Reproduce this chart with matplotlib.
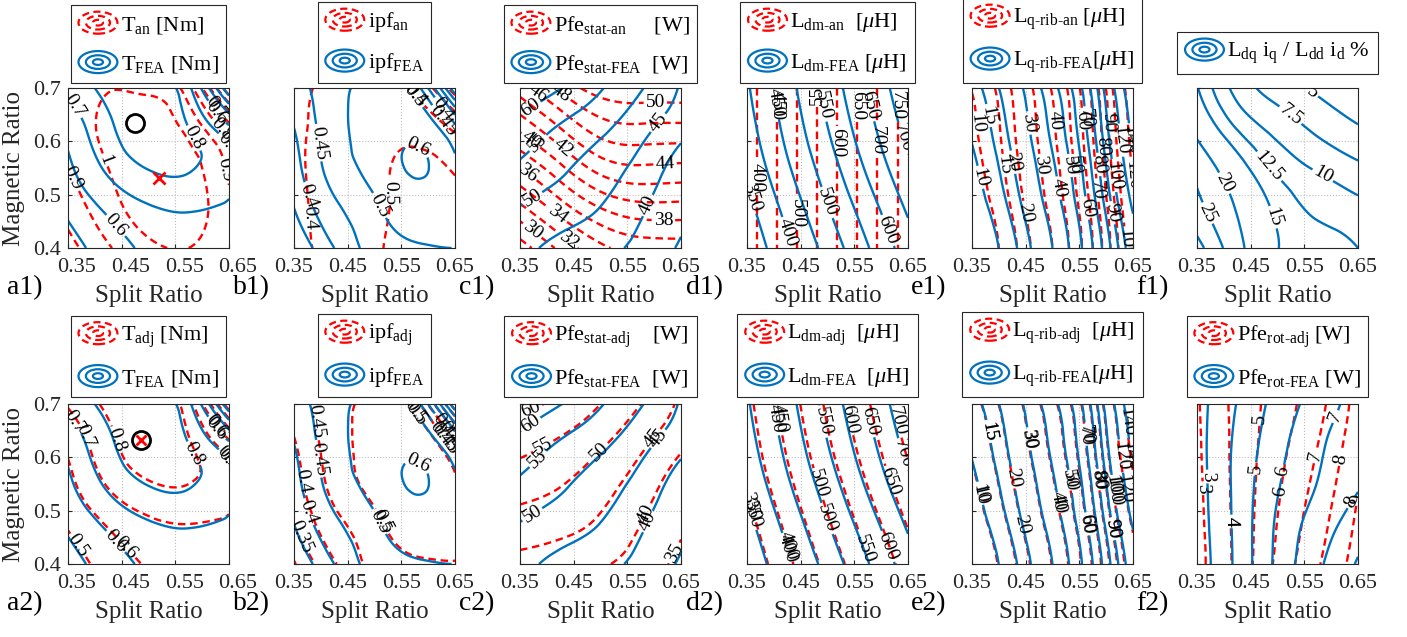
import numpy as np
import matplotlib
matplotlib.use("Agg")
import matplotlib.pyplot as plt
import matplotlib.tri as mtri
import matplotlib.transforms as mtrans
from matplotlib.legend_handler import HandlerBase
from matplotlib.lines import Line2D
from matplotlib.patches import Ellipse

plt.rcParams["font.family"] = ["Liberation Serif", "DejaVu Serif"]
plt.rcParams["mathtext.fontset"] = "custom"
plt.rcParams["mathtext.rm"] = "Liberation Serif"
plt.rcParams["mathtext.it"] = "Liberation Serif:italic"
plt.rcParams["mathtext.bf"] = "Liberation Serif:bold"
plt.rcParams["lines.dashed_pattern"] = [3.2, 2.0]

# ------------------------------------------------------------------
# DATA  (rows = magnetic ratio bottom->top, cols = split ratio left->right)
# ------------------------------------------------------------------
split_ratio = [0.35, 0.425, 0.50, 0.575, 0.65]
magnet_ratio = [0.40, 0.475, 0.55, 0.625, 0.70]

t_fea = [[0.46, 0.55, 0.62, 0.65, 0.64],
         [0.52, 0.62, 0.69, 0.71, 0.69],
         [0.58, 0.72, 0.805, 0.81, 0.72],
         [0.63, 0.78, 0.86, 0.80, 0.62],
         [0.72, 0.83, 0.85, 0.72, 0.20]]
t_an = [[0.76, 0.89, 0.975, 1.00, 0.90],
        [0.84, 0.96, 1.05, 1.05, 0.92],
        [0.90, 1.00, 1.07, 1.04, 0.88],
        [0.94, 1.02, 1.05, 0.97, 0.74],
        [0.93, 0.995, 0.98, 0.84, 0.30]]
t_adj = [[0.45, 0.54, 0.61, 0.64, 0.64],
         [0.51, 0.61, 0.68, 0.70, 0.69],
         [0.57, 0.71, 0.79, 0.80, 0.72],
         [0.62, 0.77, 0.86, 0.81, 0.63],
         [0.71, 0.82, 0.86, 0.74, 0.22]]

ipf_fea = [[0.30, 0.40, 0.47, 0.49, 0.50],
           [0.35, 0.44, 0.49, 0.55, 0.54],
           [0.38, 0.47, 0.53, 0.61, 0.52],
           [0.40, 0.48, 0.54, 0.57, 0.42],
           [0.43, 0.48, 0.53, 0.48, 0.15]]
ipf_an = [[0.36, 0.44, 0.49, 0.53, 0.54],
          [0.37, 0.44, 0.48, 0.53, 0.53],
          [0.38, 0.44, 0.48, 0.52, 0.49],
          [0.38, 0.43, 0.46, 0.47, 0.38],
          [0.37, 0.42, 0.42, 0.38, 0.15]]
ipf_adj = [[0.295, 0.395, 0.465, 0.485, 0.495],
           [0.345, 0.435, 0.485, 0.545, 0.535],
           [0.375, 0.465, 0.525, 0.585, 0.515],
           [0.395, 0.475, 0.535, 0.565, 0.415],
           [0.425, 0.475, 0.525, 0.475, 0.15]]

pfe_fea = [[46.5, 43.6, 41.5, 38.6, 34.3],
           [49.8, 47.4, 44.9, 40.7, 36.2],
           [54.1, 50.9, 47.5, 43.3, 37.3],
           [58.4, 54.5, 51.1, 46.6, 41.8],
           [64.0, 60.2, 55.4, 50.4, 44.5]]
pfe_an = [[27.0, 30.5, 33.5, 34.8, 35.0],
          [31.5, 35.0, 38.0, 39.3, 39.3],
          [36.0, 39.5, 42.8, 43.7, 43.5],
          [40.5, 44.0, 47.0, 47.6, 47.5],
          [45.0, 48.5, 51.0, 51.5, 51.5]]
pfe_adj = [[43.5, 42.5, 40.6, 37.8, 33.5],
           [47.8, 46.5, 44.2, 40.0, 35.6],
           [52.3, 50.3, 47.0, 42.6, 36.8],
           [56.5, 54.2, 50.7, 46.0, 41.0],
           [61.0, 59.0, 55.0, 50.0, 44.0]]

ldm_fea = [[311, 390, 468, 547, 626],
           [335, 416, 497, 577, 658],
           [360, 443, 525, 608, 690],
           [380, 464, 549, 633, 717],
           [394, 480, 567, 653, 739]]
ldm_an = [[376, 476, 576, 676, 776],
          [376, 476, 576, 676, 776],
          [376, 476, 576, 676, 776],
          [376, 476, 576, 676, 776],
          [376, 476, 576, 676, 776]]
ldm_adj = [[308, 388, 466, 545, 624],
           [331, 412, 493, 573, 654],
           [355, 437, 519, 602, 684],
           [373, 457, 542, 626, 710],
           [386, 472, 559, 645, 731]]

lq_fea = [[5.0, 13.5, 30.0, 60.0, 110],
          [7.0, 16.4, 34.2, 65.8, 122],
          [8.8, 19.3, 38.4, 71.7, 135],
          [10.7, 22.1, 42.5, 77.5, 147],
          [12.6, 25.0, 46.7, 83.3, 160]]
lq_an = [[5.0, 13.5, 30.0, 60.0, 110],
         [6.5, 15.5, 33.0, 63.0, 116],
         [8.0, 17.5, 36.0, 67.0, 122],
         [9.2, 19.0, 38.5, 70.0, 128],
         [10.3, 20.5, 41.0, 73.0, 134]]
lq_adj = [[5.2, 13.8, 30.5, 61.0, 112],
          [7.1, 16.6, 34.6, 66.5, 123],
          [8.9, 19.5, 38.8, 72.4, 136],
          [10.8, 22.3, 43.0, 78.3, 148],
          [12.7, 25.2, 47.2, 84.0, 161]]

cross_ratio = [[32.0, 21.6, 15.1, 13.8, 12.5],
               [26.5, 19.6, 14.3, 11.9, 10.7],
               [23.5, 16.7, 11.9, 9.7, 8.1],
               [18.6, 12.3, 9.1, 6.9, 5.2],
               [15.2, 9.1, 6.4, 4.6, 3.8]]

rot_fea = [[2.40, 4.24, 6.25, 7.81, 9.10],
           [2.50, 4.27, 6.15, 7.45, 8.50],
           [2.55, 4.28, 5.90, 7.03, 7.90],
           [2.60, 4.22, 5.65, 6.82, 7.60],
           [2.60, 4.04, 5.36, 6.46, 7.40]]
rot_adj = [[2.70, 4.26, 6.23, 7.90, 9.45],
           [2.75, 4.27, 6.03, 7.60, 9.19],
           [2.80, 4.28, 5.84, 7.30, 8.93],
           [2.85, 4.28, 5.64, 6.99, 8.66],
           [2.90, 4.29, 5.45, 6.69, 8.40]]

t_levels = [0.2, 0.3, 0.4, 0.5, 0.6, 0.7, 0.8, 0.9, 1.0]
ipf_levels = [0.15, 0.2, 0.25, 0.3, 0.35, 0.4, 0.45, 0.5, 0.6]
ipf_an_levels = [0.2, 0.3, 0.4, 0.5]
pfe_levels = [35, 40, 45, 50, 55, 60]
pfe_an_levels = list(range(28, 57, 2))
ldm_levels = list(range(350, 751, 50))
lq_levels = [5, 10, 15, 20, 30, 40, 50, 60, 70, 80, 90, 100, 120, 140]
ratio_levels = [5, 7.5, 10, 12.5, 15, 20, 25, 30]
rot_levels = [3, 4, 5, 6, 7, 8, 9]

fea_opt_a1 = (0.474, 0.635)
an_opt_a1 = (0.52, 0.532)
opt_a2 = (0.486, 0.632)

BLUE = "#0072BD"
RED = "#FF0000"
HY = "\u2010"  # typographic hyphen for the subscripts

panels = [
    dict(row=0, col=0, tag="a1)", red=t_an, blue=t_fea, rl=t_levels, bl=t_levels,
         labels=[r"T$_{\rm an}$ [Nm]", r"T$_{\rm FEA}$ [Nm]"]),
    dict(row=0, col=1, tag="b1)", red=ipf_an, blue=ipf_fea, rl=ipf_an_levels, bl=ipf_levels,
         labels=[r"ipf$_{\rm an}$", r"ipf$_{\rm FEA}$"]),
    dict(row=0, col=2, tag="c1)", red=pfe_an, blue=pfe_fea, rl=pfe_an_levels, bl=pfe_levels,
         labels=[r"Pfe$_{\rm stat" + HY + r"an}$     [W]",
                 r"Pfe$_{\rm stat" + HY + r"FEA}$  [W]"]),
    dict(row=0, col=3, tag="d1)", red=ldm_an, blue=ldm_fea, rl=ldm_levels, bl=ldm_levels,
         labels=[r"L$_{\rm dm" + HY + r"an}$  [$\mu$H]",
                 r"L$_{\rm dm" + HY + r"FEA}$ [$\mu$H]"]),
    dict(row=0, col=4, tag="e1)", red=lq_an, blue=lq_fea, rl=lq_levels, bl=lq_levels,
         labels=[r"L$_{\rm q" + HY + "rib" + HY + r"an}$ [$\mu$H]",
                 r"L$_{\rm q" + HY + "rib" + HY + r"FEA}$[$\mu$H]"]),
    dict(row=0, col=5, tag="f1)", red=None, blue=cross_ratio, rl=None, bl=ratio_levels,
         labels=[None, r"L$_{\rm dq}$ i$_{\rm q}$ / L$_{\rm dd}$ i$_{\rm d}$ %"]),
    dict(row=1, col=0, tag="a2)", red=t_adj, blue=t_fea, rl=t_levels, bl=t_levels,
         labels=[r"T$_{\rm adj}$ [Nm]", r"T$_{\rm FEA}$ [Nm]"]),
    dict(row=1, col=1, tag="b2)", red=ipf_adj, blue=ipf_fea, rl=ipf_levels, bl=ipf_levels,
         labels=[r"ipf$_{\rm adj}$", r"ipf$_{\rm FEA}$"]),
    dict(row=1, col=2, tag="c2)", red=pfe_adj, blue=pfe_fea, rl=pfe_levels, bl=pfe_levels,
         labels=[r"Pfe$_{\rm stat" + HY + r"adj}$    [W]",
                 r"Pfe$_{\rm stat" + HY + r"FEA}$  [W]"]),
    dict(row=1, col=3, tag="d2)", red=ldm_adj, blue=ldm_fea, rl=ldm_levels, bl=ldm_levels,
         labels=[r"L$_{\rm dm" + HY + r"adj}$  [$\mu$H]",
                 r"L$_{\rm dm" + HY + r"FEA}$  [$\mu$H]"]),
    dict(row=1, col=4, tag="e2)", red=lq_adj, blue=lq_fea, rl=lq_levels, bl=lq_levels,
         labels=[r"L$_{\rm q" + HY + "rib" + HY + r"adj}$  [$\mu$H]",
                 r"L$_{\rm q" + HY + "rib" + HY + r"FEA}$[$\mu$H]"]),
    dict(row=1, col=5, tag="f2)", red=rot_adj, blue=rot_fea, rl=rot_levels, bl=rot_levels,
         labels=[r"Pfe$_{\rm rot" + HY + r"adj}$ [W]",
                 r"Pfe$_{\rm rot" + HY + r"FEA}$ [W]"]),
]

# ------------------------------------------------------------------
# helpers
# ------------------------------------------------------------------
gx, gy = np.meshgrid(split_ratio, magnet_ratio)
tri = mtri.Triangulation(gx.ravel(), gy.ravel())
refiner = mtri.UniformTriRefiner(tri)


def draw_field(ax, z, levels, color, style):
    z = np.asarray(z, float).ravel()
    interp = mtri.CubicTriInterpolator(tri, z, kind="min_E")
    rt, rz = refiner.refine_field(z, triinterpolator=interp, subdiv=4)
    cs = ax.tricontour(rt, rz, levels=levels, colors=color, linestyles=style,
                       linewidths=1.7)
    ax.clabel(cs, fontsize=14, fmt="%g", inline=True, inline_spacing=2, colors="k")


class ContourIcon(HandlerBase):
    def create_artists(self, legend, orig_handle, xdescent, ydescent, width, height,
                       fontsize, trans):
        cx = width / 2 - xdescent
        cy = height / 2 - ydescent
        arts = []
        for s in (1.0, 0.62, 0.26):
            arts.append(Ellipse((cx, cy), width * s, height * 1.15 * s, fill=False,
                                edgecolor=orig_handle.get_color(),
                                linestyle=orig_handle.get_linestyle(),
                                linewidth=1.6, transform=trans))
        return arts


# ------------------------------------------------------------------
# figure
# ------------------------------------------------------------------
W, H = 1407, 637
fig = plt.figure(figsize=(W / 100, H / 100), dpi=100)
lefts = [68, 294, 520, 747, 972, 1197]
bottoms = [248, 564]
aw, ah = 161, 160

for p in panels:
    r, c = p["row"], p["col"]
    ax = fig.add_axes([lefts[c] / W, 1 - bottoms[r] / H, aw / W, ah / H])

    handles, labels = [], []
    if p["red"] is not None:
        draw_field(ax, p["red"], p["rl"], RED, "dashed")
        handles.append(Line2D([], [], color=RED, linestyle="--"))
        labels.append(p["labels"][0])
    draw_field(ax, p["blue"], p["bl"], BLUE, "solid")
    handles.append(Line2D([], [], color=BLUE, linestyle="-"))
    labels.append(p["labels"][1])

    if p["tag"] == "a1)":
        ax.plot(*fea_opt_a1, "o", mfc="none", mec="k", ms=13, mew=2, zorder=5)
        ax.plot(*an_opt_a1, "x", color=RED, ms=9, mew=2, zorder=5)
    if p["tag"] == "a2)":
        ax.plot(*opt_a2, "o", mfc="none", mec="k", ms=13, mew=2, zorder=5)
        ax.plot(*opt_a2, "x", color=RED, ms=7, mew=2, zorder=5)

    ax.set_xlim(0.35, 0.65)
    ax.set_ylim(0.4, 0.7)
    ax.set_xticks([0.35, 0.45, 0.55, 0.65])
    ax.set_xticklabels(["0.35", "0.45", "0.55", "0.65"])
    ax.set_yticks([0.4, 0.5, 0.6, 0.7])
    ax.tick_params(direction="in", length=3, labelsize=16, colors="#262626")
    ax.tick_params(axis="x", pad=7)
    ax.tick_params(axis="y", pad=5)
    if c == 0:
        ax.set_yticklabels(["0.4", "0.5", "0.6", "0.7"])
        ax.set_ylabel("Magnetic Ratio", fontsize=18, labelpad=6, color="#262626")
        off = mtrans.ScaledTranslation(9 / 100, 0, fig.dpi_scale_trans)
        for lbl in ax.get_xticklabels():
            lbl.set_transform(lbl.get_transform() + off)
    else:
        ax.set_yticklabels([])
    ax.set_xlabel("Split Ratio", fontsize=18, labelpad=6, color="#262626")
    ax.grid(True, linestyle=":", color="#BDBDBD", linewidth=0.8)
    for s in ax.spines.values():
        s.set_color("#262626")
        s.set_linewidth(0.8)

    gap = 14 if p["tag"] == "f1)" else (5 if r == 0 else 7)
    leg = ax.legend(handles, labels, loc="lower center",
                    bbox_to_anchor=(0.5, 1 + gap / ah), borderaxespad=0,
                    handler_map={Line2D: ContourIcon()}, fontsize=16,
                    handlelength=1.75, handleheight=0.95, handletextpad=0.15,
                    borderpad=0.35, labelspacing=0.75, fancybox=False,
                    framealpha=1, edgecolor="#262626")
    leg.get_frame().set_linewidth(0.8)

    fig.text((lefts[c] - 61) / W, 1 - (bottoms[r] + 40) / H, p["tag"],
             fontsize=20, ha="left", va="center")

fig.savefig("out.png", dpi=100)
